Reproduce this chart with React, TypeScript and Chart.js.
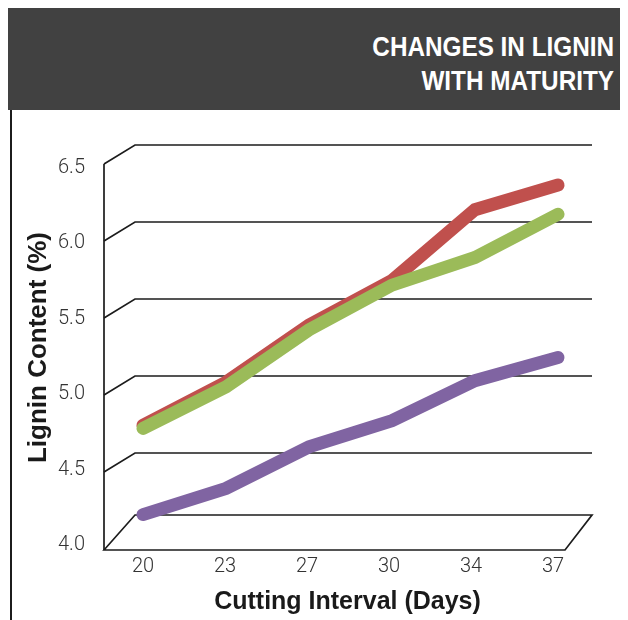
import React, { useEffect, useRef } from "react";
import { Chart, registerables } from "chart.js";

Chart.register(...registerables);

const categories = ["20", "23", "27", "30", "34", "37"];
const redValues = [4.68, 4.96, 5.33, 5.62, 6.08, 6.24];
const greenValues = [4.66, 4.93, 5.3, 5.59, 5.77, 6.05];
const purpleValues = [4.1, 4.27, 4.54, 4.71, 4.97, 5.12];
const yTicks = [4.0, 4.5, 5.0, 5.5, 6.0, 6.5];
const titleLines = ["CHANGES IN LIGNIN", "WITH MATURITY"];
const xTitle = "Cutting Interval (Days)";
const yTitle = "Lignin Content (%)";

const NARROW = "'Liberation Sans Narrow', 'Liberation Sans', Arial, sans-serif";
const LIGHT = "Roboto, 'Liberation Sans', Arial, sans-serif";

const frame3d = {
  id: "frame3d",
  beforeDatasetsDraw(chart: any) {
    const { ctx, chartArea: ca, scales } = chart;
    const y = scales.y;
    const x = scales.x;
    const bx0 = ca.left - 8;
    const bx1 = ca.right + 34;
    const dx = -31;
    const dy = 19;
    ctx.save();
    ctx.strokeStyle = "#1c1c1c";
    ctx.lineWidth = 1.7;
    ctx.lineJoin = "miter";
    const yMin = yTicks[0];
    const yMax = yTicks[yTicks.length - 1];
    for (const v of yTicks) {
      if (v === yMin) continue;
      const yb = y.getPixelForValue(v);
      ctx.beginPath();
      ctx.moveTo(bx0 + dx, yb + dy);
      ctx.lineTo(bx0, yb);
      ctx.lineTo(bx1, yb);
      ctx.stroke();
    }
    const y0 = y.getPixelForValue(yMin);
    const fb = y0 - 15;
    const ff = y0 + 20;
    ctx.beginPath();
    ctx.moveTo(bx0 + dx, y.getPixelForValue(yMax) + dy);
    ctx.lineTo(bx0 + dx, ff);
    ctx.stroke();
    ctx.beginPath();
    ctx.moveTo(bx0 + dx, ff);
    ctx.lineTo(bx0, fb);
    ctx.lineTo(bx1, fb);
    ctx.lineTo(bx1 - 27, ff);
    ctx.closePath();
    ctx.stroke();

    ctx.fillStyle = "#333333";
    ctx.font = `300 20px ${LIGHT}`;
    ctx.textAlign = "right";
    ctx.textBaseline = "middle";
    const top = y.getPixelForValue(yMax);
    for (const v of yTicks) {
      const yb = y.getPixelForValue(v);
      const ly = top + 23 + (yb - top) * 0.98;
      ctx.fillText(v.toFixed(1), ca.left - 58, ly);
    }
    ctx.textAlign = "center";
    categories.forEach((c, i) => {
      const px = x.getPixelForValue(i);
      const lx = ca.left + (px - ca.left) * 0.988;
      ctx.fillText(c, lx, ff + 17);
    });

    ctx.fillStyle = "#1a1a1a";
    ctx.font = `bold 25px ${NARROW}`;
    ctx.textAlign = "center";
    ctx.fillText(xTitle, (ca.left + ca.right) / 2 - 3, ff + 52);
    ctx.save();
    ctx.translate(31, (ca.top + ca.bottom) / 2 + 10);
    ctx.rotate(-Math.PI / 2);
    ctx.font = `bold 26px ${NARROW}`;
    ctx.fillText(yTitle, 0, 0);
    ctx.restore();
    ctx.restore();
  },
};

export default function App() {
  const ref = useRef<HTMLCanvasElement | null>(null);
  useEffect(() => {
    if (!ref.current) return;
    const chart = new Chart(ref.current, {
      type: "line",
      data: {
        labels: categories,
        datasets: [
          { label: "Green", data: greenValues, borderColor: "#9BBB59" },
          { label: "Red", data: redValues, borderColor: "#C0504D" },
          { label: "Purple", data: purpleValues, borderColor: "#8064A2" },
        ],
      },
      options: {
        responsive: false,
        animation: false,
        devicePixelRatio: 1,
        layout: { padding: { left: 135, right: 70, top: 35, bottom: 90 } },
        elements: {
          point: { radius: 0 },
          line: {
            borderWidth: 13,
            tension: 0,
            borderCapStyle: "round",
            borderJoinStyle: "miter",
          },
        },
        datasets: { line: { clip: false } as any },
        plugins: { legend: { display: false }, tooltip: { enabled: false } },
        scales: {
          x: { display: false },
          y: { display: false, min: 4.0, max: 6.5 },
        },
      } as any,
      plugins: [frame3d],
    });
    return () => chart.destroy();
  }, []);

  return (
    <div style={{ position: "relative", width: 620, height: 612 }}>
      <div
        style={{
          position: "absolute",
          left: 0,
          top: 0,
          width: 620,
          height: 102,
          background: "#414141",
          color: "#ffffff",
          fontFamily: NARROW,
          fontWeight: "bold",
          fontSize: 27,
          lineHeight: "34px",
          textAlign: "right",
          boxSizing: "border-box",
          paddingTop: 22,
          paddingRight: 14,
        }}
      >
        {titleLines.map((t) => (
          <div
            key={t}
            style={{ transform: "scaleX(0.9)", transformOrigin: "right center" }}
          >
            {t}
          </div>
        ))}
      </div>
      <div
        style={{
          position: "absolute",
          left: 2,
          top: 102,
          width: 2,
          height: 510,
          background: "#1c1c1c",
        }}
      />
      <canvas
        ref={ref}
        width={620}
        height={510}
        style={{ position: "absolute", left: 0, top: 102 }}
      />
    </div>
  );
}
